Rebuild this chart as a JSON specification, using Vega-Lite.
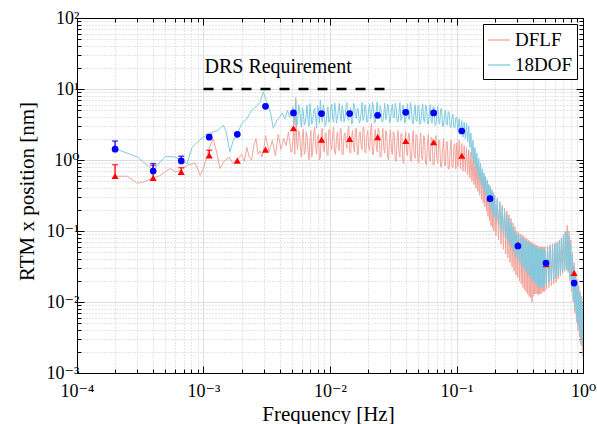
{
"$schema": "https://vega.github.io/schema/vega-lite/v6.json",
"width": 506, "height": 355,
"autosize": {"type": "none"},
"padding": {"left": 77, "top": 18, "right": 14, "bottom": 51},
"background": "white",
"config": {"font": "Liberation Serif, Times New Roman, DejaVu Serif, serif", "view": {"stroke": "black", "strokeWidth": 1}},
"datasets": {
"dflf": [
{"f":0.0002,"v":0.59},{"f":0.00025,"v":0.59},{"f":0.0003,"v":0.47},{"f":0.00035,"v":0.5},{"f":0.0004,"v":0.565},{"f":0.00045,"v":0.6},{"f":0.000545,"v":0.76},{"f":0.0006,"v":0.68},{"f":0.00067,"v":0.72},{"f":0.00074,"v":0.84},{"f":0.00086,"v":0.91},{"f":0.00094,"v":0.61},{"f":0.001,"v":0.75},{"f":0.0011,"v":1.4},{"f":0.00119,"v":2.0},{"f":0.00127,"v":1.3},{"f":0.00135,"v":0.76},{"f":0.00145,"v":0.95},{"f":0.0016,"v":1.1},{"f":0.0017,"v":0.9},{"f":0.00185,"v":1.0},{"f":0.002,"v":1.2},{"f":0.0021,"v":0.95},{"f":0.0022,"v":1.5},{"f":0.0023,"v":1.1},{"f":0.0024,"v":1.0},{"f":0.0025,"v":1.6},{"f":0.0026,"v":2.0},{"f":0.0027,"v":1.2},{"f":0.0028,"v":1.35},{"f":0.0029,"v":1.1},{"f":0.003,"v":1.45},{"f":0.0031,"v":2.2},{"f":0.0033,"v":1.3},{"f":0.0035,"v":1.9},{"f":0.0037,"v":1.15},{"f":0.0039,"v":2.3},{"f":0.0041,"v":1.4},{"f":0.0043,"v":2.0},{"f":0.0045,"v":1.6},{"f":0.0047,"v":2.5},{"f":0.0049,"v":1.3},
{"f":0.005,"v":1.3},{"f":0.00509,"v":2.0},{"f":0.00518,"v":2.5},{"f":0.00527,"v":1.2},{"f":0.00536,"v":7.6},{"f":0.00545,"v":1.8},{"f":0.00555,"v":1.4},{"f":0.00564,"v":2.6},{"f":0.00574,"v":2.4},{"f":0.00584,"v":1.5},{"f":0.00594,"v":1.1},{"f":0.00604,"v":2.0},{"f":0.00615,"v":2.7},{"f":0.00626,"v":1.2},{"f":0.00637,"v":1.3},{"f":0.00648,"v":2.5},{"f":0.00659,"v":2.2},{"f":0.0067,"v":1.4},{"f":0.00682,"v":1.0},{"f":0.00694,"v":1.9},{"f":0.00706,"v":2.6},{"f":0.00718,"v":1.1},{"f":0.00731,"v":1.4},{"f":0.00744,"v":2.4},{"f":0.00757,"v":2.9},{"f":0.0077,"v":1.6},{"f":0.00783,"v":1.2},{"f":0.00797,"v":2.1},{"f":0.00811,"v":2.3},{"f":0.00825,"v":1.0},{"f":0.00839,"v":1.1},{"f":0.00854,"v":2.5},{"f":0.00869,"v":2.8},{"f":0.00884,"v":1.5},{"f":0.00899,"v":1.3},{"f":0.00915,"v":2.2},{"f":0.00931,"v":2.4},{"f":0.00947,"v":1.2},{"f":0.00963,"v":1.15},{"f":0.0098,"v":2.7},{"f":0.00997,"v":2.6},{"f":0.01014,"v":1.6},{"f":0.01032,"v":1.4},{"f":0.0105,"v":2.3},{"f":0.01068,"v":2.9},{"f":0.01087,"v":1.3},{"f":0.01106,"v":1.2},{"f":0.01125,"v":2.0},{"f":0.01145,"v":2.5},{"f":0.01165,"v":1.5},{"f":0.01185,"v":1.35},{"f":0.01205,"v":2.8},{"f":0.01226,"v":2.7},{"f":0.01247,"v":1.2},{"f":0.01269,"v":1.2},{"f":0.01291,"v":2.2},{"f":0.01314,"v":2.4},{"f":0.01337,"v":1.7},{"f":0.0136,"v":1.45},{"f":0.01384,"v":2.6},{"f":0.01408,"v":3.0},{"f":0.01432,"v":1.3},{"f":0.01457,"v":1.25},{"f":0.01482,"v":2.1},{"f":0.01508,"v":2.6},{"f":0.01534,"v":1.5},{"f":0.01561,"v":1.3},{"f":0.01588,"v":2.7},{"f":0.01616,"v":2.8},{"f":0.01644,"v":1.2},{"f":0.01672,"v":1.2},{"f":0.01701,"v":2.3},{"f":0.01731,"v":2.5},{"f":0.01761,"v":1.6},{"f":0.01792,"v":1.4},{"f":0.01823,"v":2.9},{"f":0.01855,"v":2.9},{"f":0.01887,"v":1.3},{"f":0.0192,"v":1.25},{"f":0.01953,"v":2.2},{"f":0.01987,"v":2.6},{"f":0.02022,"v":1.5},{"f":0.02057,"v":1.35},{"f":0.02093,"v":2.6},{"f":0.02129,"v":3.3},{"f":0.02166,"v":1.2},{"f":0.02204,"v":1.2},{"f":0.02242,"v":2.1},{"f":0.02281,"v":2.7},{"f":0.02321,"v":1.6},{"f":0.02361,"v":1.3},{"f":0.02402,"v":2.8},{"f":0.02444,"v":2.5},{"f":0.02487,"v":1.1},{"f":0.0253,"v":1.1},{"f":0.02574,"v":2.0},{"f":0.02619,"v":2.8},{"f":0.02664,"v":1.4},{"f":0.0271,"v":1.25},{"f":0.02757,"v":2.6},{"f":0.02805,"v":2.4},{"f":0.02854,"v":1.1},{"f":0.02904,"v":1.0},{"f":0.02955,"v":2.0},{"f":0.03006,"v":2.7},{"f":0.03058,"v":1.4},{"f":0.03111,"v":1.2},{"f":0.03165,"v":2.5},{"f":0.0322,"v":2.3},{"f":0.03276,"v":1.0},{"f":0.03333,"v":0.95},{"f":0.03391,"v":1.9},{"f":0.0345,"v":2.6},{"f":0.0351,"v":1.3},{"f":0.03571,"v":1.1},{"f":0.03633,"v":2.3},{"f":0.03696,"v":2.4},{"f":0.0376,"v":1.0},{"f":0.03826,"v":0.9},{"f":0.03892,"v":1.8},{"f":0.0396,"v":2.5},{"f":0.04029,"v":1.3},{"f":0.04099,"v":1.15},{"f":0.0417,"v":2.4},{"f":0.04243,"v":2.3},{"f":0.04316,"v":1.0},{"f":0.04391,"v":0.95},{"f":0.04467,"v":1.7},{"f":0.04545,"v":2.6},{"f":0.04624,"v":1.2},{"f":0.04705,"v":1.05},{"f":0.04787,"v":2.3},{"f":0.0487,"v":2.2},{"f":0.04955,"v":0.95},{"f":0.05041,"v":0.9},{"f":0.05129,"v":1.7},{"f":0.05218,"v":2.4},{"f":0.05309,"v":1.1},{"f":0.05401,"v":1.0},{"f":0.05495,"v":2.2},{"f":0.0559,"v":2.1},{"f":0.05687,"v":0.9},{"f":0.05786,"v":0.85},{"f":0.05887,"v":1.6},{"f":0.05989,"v":2.3},{"f":0.06093,"v":1.1},{"f":0.06199,"v":0.95},{"f":0.06307,"v":2.1},{"f":0.06416,"v":2.0},{"f":0.06528,"v":0.85},{"f":0.06641,"v":0.85},{"f":0.06757,"v":1.5},{"f":0.06874,"v":2.2},{"f":0.06993,"v":1.0},{"f":0.07115,"v":0.9},{"f":0.07239,"v":1.9},{"f":0.07364,"v":1.9},{"f":0.07492,"v":0.8},{"f":0.07622,"v":0.8},{"f":0.07755,"v":1.4},{"f":0.07889,"v":2.0},{"f":0.08026,"v":0.9},{"f":0.08165,"v":0.82},{"f":0.08307,"v":1.8},{"f":0.08451,"v":1.8},{"f":0.08598,"v":0.75},{"f":0.08747,"v":0.75},{"f":0.08899,"v":1.3},{"f":0.09053,"v":1.9},{"f":0.09211,"v":0.8},{"f":0.0937,"v":0.78},{"f":0.09533,"v":1.6},{"f":0.09698,"v":1.7},{"f":0.09867,"v":0.75},{"f":0.1004,"v":1.75},
{"f":0.1025,"v":0.8},{"f":0.105,"v":1.9},{"f":0.1075,"v":0.75},{"f":0.11,"v":1.7},{"f":0.1125,"v":0.7},{"f":0.115,"v":1.6},{"f":0.1175,"v":0.68},{"f":0.12,"v":1.5},{"f":0.1225,"v":0.62},{"f":0.125,"v":1.4},{"f":0.1275,"v":0.56},{"f":0.13,"v":1.3},{"f":0.1325,"v":0.5},{"f":0.135,"v":1.15},{"f":0.1375,"v":0.45},{"f":0.14,"v":1.0},{"f":0.1425,"v":0.4},{"f":0.145,"v":0.9},{"f":0.1475,"v":0.36},{"f":0.15,"v":0.8},{"f":0.1525,"v":0.32},{"f":0.155,"v":0.72},{"f":0.1575,"v":0.28},{"f":0.16,"v":0.65},{"f":0.1625,"v":0.25},{"f":0.165,"v":0.6},{"f":0.1675,"v":0.22},{"f":0.17,"v":0.55},{"f":0.1725,"v":0.19},{"f":0.175,"v":0.5},{"f":0.1775,"v":0.16},{"f":0.18,"v":0.45},{"f":0.1825,"v":0.14},{"f":0.185,"v":0.42},{"f":0.1875,"v":0.12},{"f":0.19,"v":0.38},{"f":0.1925,"v":0.11},{"f":0.195,"v":0.35},{"f":0.1975,"v":0.1},{"f":0.2,"v":0.32},{"f":0.205,"v":0.085},{"f":0.21,"v":0.29},{"f":0.215,"v":0.075},{"f":0.22,"v":0.26},{"f":0.225,"v":0.065},{"f":0.23,"v":0.23},{"f":0.235,"v":0.055},{"f":0.24,"v":0.21},{"f":0.245,"v":0.048},{"f":0.25,"v":0.19},{"f":0.255,"v":0.042},{"f":0.26,"v":0.17},{"f":0.265,"v":0.036},{"f":0.27,"v":0.15},{"f":0.275,"v":0.031},{"f":0.28,"v":0.13},{"f":0.285,"v":0.027},{"f":0.29,"v":0.115},{"f":0.295,"v":0.024},{"f":0.3,"v":0.1},{"f":0.305,"v":0.022},{"f":0.31,"v":0.095},{"f":0.315,"v":0.02},{"f":0.32,"v":0.09},{"f":0.325,"v":0.018},{"f":0.33,"v":0.088},{"f":0.335,"v":0.016},{"f":0.34,"v":0.085},{"f":0.345,"v":0.015},{"f":0.35,"v":0.08},{"f":0.355,"v":0.014},{"f":0.36,"v":0.078},{"f":0.365,"v":0.013},{"f":0.37,"v":0.075},{"f":0.375,"v":0.012},{"f":0.38,"v":0.072},{"f":0.385,"v":0.0115},{"f":0.39,"v":0.07},{"f":0.395,"v":0.01},{"f":0.4,"v":0.068},{"f":0.405,"v":0.012},{"f":0.41,"v":0.066},{"f":0.415,"v":0.013},{"f":0.42,"v":0.064},{"f":0.425,"v":0.013},{"f":0.43,"v":0.063},{"f":0.435,"v":0.013},{"f":0.44,"v":0.062},{"f":0.445,"v":0.0125},{"f":0.45,"v":0.06},{"f":0.455,"v":0.013},{"f":0.46,"v":0.06},{"f":0.465,"v":0.013},{"f":0.47,"v":0.06},{"f":0.475,"v":0.014},{"f":0.48,"v":0.06},{"f":0.485,"v":0.014},{"f":0.49,"v":0.06},{"f":0.495,"v":0.014},{"f":0.5,"v":0.06},{"f":0.5125,"v":0.015},{"f":0.525,"v":0.062},{"f":0.5375,"v":0.016},{"f":0.55,"v":0.065},{"f":0.5625,"v":0.017},{"f":0.575,"v":0.066},{"f":0.5875,"v":0.018},{"f":0.6,"v":0.068},{"f":0.6125,"v":0.019},{"f":0.625,"v":0.07},{"f":0.6375,"v":0.021},{"f":0.65,"v":0.075},{"f":0.6625,"v":0.023},{"f":0.675,"v":0.08},{"f":0.6875,"v":0.025},{"f":0.7,"v":0.09},{"f":0.7125,"v":0.027},{"f":0.725,"v":0.1},{"f":0.7375,"v":0.028},{"f":0.75,"v":0.12},{"f":0.7625,"v":0.026},{"f":0.775,"v":0.1},{"f":0.7875,"v":0.02},{"f":0.8,"v":0.075},{"f":0.8125,"v":0.014},{"f":0.825,"v":0.05},{"f":0.8375,"v":0.01},{"f":0.85,"v":0.036},{"f":0.8625,"v":0.007},{"f":0.875,"v":0.027},{"f":0.8875,"v":0.0052},{"f":0.9,"v":0.021},{"f":0.9125,"v":0.004},{"f":0.925,"v":0.017},{"f":0.9375,"v":0.0032},{"f":0.95,"v":0.014},{"f":0.9625,"v":0.0025},{"f":0.975,"v":0.012},{"f":0.9875,"v":0.002},{"f":1.0,"v":0.0017}
],
"dof": [
{"f":0.0002,"v":1.45},{"f":0.0003,"v":1.1},{"f":0.0004,"v":0.72},{"f":0.0005,"v":1.13},{"f":0.0006,"v":1.1},{"f":0.00067,"v":0.98},{"f":0.00074,"v":0.88},{"f":0.00081,"v":1.5},{"f":0.0009,"v":1.8},{"f":0.001,"v":2.1},{"f":0.00108,"v":2.3},{"f":0.00119,"v":2.5},{"f":0.0013,"v":2.6},{"f":0.00143,"v":3.1},{"f":0.0015,"v":2.6},{"f":0.00162,"v":1.3},{"f":0.00172,"v":1.9},{"f":0.00185,"v":2.3},{"f":0.002,"v":3.25},{"f":0.0022,"v":3.8},{"f":0.0024,"v":5.0},{"f":0.0026,"v":5.6},{"f":0.0028,"v":6.5},{"f":0.00297,"v":9.1},{"f":0.0032,"v":6.2},{"f":0.0034,"v":4.5},{"f":0.00356,"v":2.8},{"f":0.0038,"v":3.6},{"f":0.004,"v":4.0},{"f":0.0042,"v":4.6},{"f":0.0044,"v":3.8},{"f":0.0046,"v":5.0},{"f":0.0048,"v":4.0},
{"f":0.005,"v":4.4},{"f":0.00509,"v":5.6},{"f":0.00518,"v":3.1},{"f":0.00527,"v":4.2},{"f":0.00536,"v":6.9},{"f":0.00545,"v":3.0},{"f":0.00555,"v":3.5},{"f":0.00564,"v":6.0},{"f":0.00574,"v":5.2},{"f":0.00584,"v":3.8},{"f":0.00594,"v":2.9},{"f":0.00604,"v":5.5},{"f":0.00615,"v":4.8},{"f":0.00626,"v":3.1},{"f":0.00637,"v":3.3},{"f":0.00648,"v":4.4},{"f":0.00659,"v":5.9},{"f":0.0067,"v":3.6},{"f":0.00682,"v":3.0},{"f":0.00694,"v":6.2},{"f":0.00706,"v":4.6},{"f":0.00718,"v":3.2},{"f":0.00731,"v":3.6},{"f":0.00744,"v":5.0},{"f":0.00757,"v":5.4},{"f":0.0077,"v":4.0},{"f":0.00783,"v":2.8},{"f":0.00797,"v":5.8},{"f":0.00811,"v":4.9},{"f":0.00825,"v":3.3},{"f":0.00839,"v":7.0},{"f":0.00854,"v":4.2},{"f":0.00869,"v":3.4},{"f":0.00884,"v":6.0},{"f":0.00899,"v":5.1},{"f":0.00915,"v":3.0},{"f":0.00931,"v":3.2},{"f":0.00947,"v":4.6},{"f":0.00963,"v":5.6},{"f":0.0098,"v":3.4},{"f":0.00997,"v":3.7},{"f":0.01014,"v":5.2},{"f":0.01032,"v":6.1},{"f":0.0105,"v":3.8},{"f":0.01068,"v":3.4},{"f":0.01087,"v":6.4},{"f":0.01106,"v":5.3},{"f":0.01125,"v":3.3},{"f":0.01145,"v":3.9},{"f":0.01165,"v":5.0},{"f":0.01185,"v":6.3},{"f":0.01205,"v":4.2},{"f":0.01226,"v":3.5},{"f":0.01247,"v":5.9},{"f":0.01269,"v":5.0},{"f":0.01291,"v":3.4},{"f":0.01314,"v":4.0},{"f":0.01337,"v":5.6},{"f":0.0136,"v":6.4},{"f":0.01384,"v":3.7},{"f":0.01408,"v":3.6},{"f":0.01432,"v":4.8},{"f":0.01457,"v":5.5},{"f":0.01482,"v":3.2},{"f":0.01508,"v":3.3},{"f":0.01534,"v":6.3},{"f":0.01561,"v":6.0},{"f":0.01588,"v":4.1},{"f":0.01616,"v":3.8},{"f":0.01644,"v":5.4},{"f":0.01672,"v":5.2},{"f":0.01701,"v":3.3},{"f":0.01731,"v":3.5},{"f":0.01761,"v":4.6},{"f":0.01792,"v":6.5},{"f":0.01823,"v":3.6},{"f":0.01855,"v":3.9},{"f":0.01887,"v":6.0},{"f":0.0192,"v":5.4},{"f":0.01953,"v":3.4},{"f":0.01987,"v":3.6},{"f":0.02022,"v":5.1},{"f":0.02057,"v":6.2},{"f":0.02093,"v":3.8},{"f":0.02129,"v":4.0},{"f":0.02166,"v":6.5},{"f":0.02204,"v":5.6},{"f":0.02242,"v":3.3},{"f":0.02281,"v":3.4},{"f":0.02321,"v":4.9},{"f":0.02361,"v":6.6},{"f":0.02402,"v":3.9},{"f":0.02444,"v":3.8},{"f":0.02487,"v":5.8},{"f":0.0253,"v":5.3},{"f":0.02574,"v":3.4},{"f":0.02619,"v":3.5},{"f":0.02664,"v":4.6},{"f":0.0271,"v":6.3},{"f":0.02757,"v":3.7},{"f":0.02805,"v":4.1},{"f":0.02854,"v":6.1},{"f":0.02904,"v":5.7},{"f":0.02955,"v":3.3},{"f":0.03006,"v":3.6},{"f":0.03058,"v":5.0},{"f":0.03111,"v":6.1},{"f":0.03165,"v":4.0},{"f":0.0322,"v":3.9},{"f":0.03276,"v":6.3},{"f":0.03333,"v":5.5},{"f":0.03391,"v":3.5},{"f":0.0345,"v":3.4},{"f":0.0351,"v":4.7},{"f":0.03571,"v":6.4},{"f":0.03633,"v":3.6},{"f":0.03696,"v":3.8},{"f":0.0376,"v":5.9},{"f":0.03826,"v":5.8},{"f":0.03892,"v":3.3},{"f":0.0396,"v":3.5},{"f":0.04029,"v":4.9},{"f":0.04099,"v":6.2},{"f":0.0417,"v":3.9},{"f":0.04243,"v":3.7},{"f":0.04316,"v":6.4},{"f":0.04391,"v":5.6},{"f":0.04467,"v":3.4},{"f":0.04545,"v":3.2},{"f":0.04624,"v":4.6},{"f":0.04705,"v":6.0},{"f":0.04787,"v":3.6},{"f":0.0487,"v":3.5},{"f":0.04955,"v":5.7},{"f":0.05041,"v":5.9},{"f":0.05129,"v":3.2},{"f":0.05218,"v":3.3},{"f":0.05309,"v":4.8},{"f":0.05401,"v":6.2},{"f":0.05495,"v":3.7},{"f":0.0559,"v":3.4},{"f":0.05687,"v":5.9},{"f":0.05786,"v":5.8},{"f":0.05887,"v":3.3},{"f":0.05989,"v":3.2},{"f":0.06093,"v":4.5},{"f":0.06199,"v":6.0},{"f":0.06307,"v":3.5},{"f":0.06416,"v":3.3},{"f":0.06528,"v":5.6},{"f":0.06641,"v":5.6},{"f":0.06757,"v":3.1},{"f":0.06874,"v":3.1},{"f":0.06993,"v":4.4},{"f":0.07115,"v":5.7},{"f":0.07239,"v":3.4},{"f":0.07364,"v":3.2},{"f":0.07492,"v":5.2},{"f":0.07622,"v":5.3},{"f":0.07755,"v":3.0},{"f":0.07889,"v":3.0},{"f":0.08026,"v":4.2},{"f":0.08165,"v":5.0},{"f":0.08307,"v":3.2},{"f":0.08451,"v":3.1},{"f":0.08598,"v":4.8},{"f":0.08747,"v":4.7},{"f":0.08899,"v":2.9},{"f":0.09053,"v":2.9},{"f":0.09211,"v":4.0},{"f":0.0937,"v":4.4},{"f":0.09533,"v":2.9},{"f":0.09698,"v":2.8},{"f":0.09867,"v":3.9},{"f":0.1004,"v":4.0},
{"f":0.1025,"v":2.6},{"f":0.105,"v":3.8},{"f":0.1075,"v":2.4},{"f":0.11,"v":3.6},{"f":0.1125,"v":2.1},{"f":0.115,"v":3.4},{"f":0.1175,"v":2.0},{"f":0.12,"v":3.3},{"f":0.1225,"v":1.8},{"f":0.125,"v":3.0},{"f":0.1275,"v":1.5},{"f":0.13,"v":2.4},{"f":0.1325,"v":1.1},{"f":0.135,"v":1.9},{"f":0.1375,"v":0.9},{"f":0.14,"v":1.5},{"f":0.1425,"v":0.75},{"f":0.145,"v":1.25},{"f":0.1475,"v":0.62},{"f":0.15,"v":1.05},{"f":0.1525,"v":0.52},{"f":0.155,"v":0.9},{"f":0.1575,"v":0.45},{"f":0.16,"v":0.75},{"f":0.1625,"v":0.4},{"f":0.165,"v":0.66},{"f":0.1675,"v":0.34},{"f":0.17,"v":0.58},{"f":0.1725,"v":0.3},{"f":0.175,"v":0.52},{"f":0.1775,"v":0.25},{"f":0.18,"v":0.45},{"f":0.1825,"v":0.22},{"f":0.185,"v":0.42},{"f":0.1875,"v":0.2},{"f":0.19,"v":0.38},{"f":0.1925,"v":0.18},{"f":0.195,"v":0.34},{"f":0.1975,"v":0.16},{"f":0.2,"v":0.32},{"f":0.205,"v":0.14},{"f":0.21,"v":0.28},{"f":0.215,"v":0.12},{"f":0.22,"v":0.25},{"f":0.225,"v":0.105},{"f":0.23,"v":0.22},{"f":0.235,"v":0.09},{"f":0.24,"v":0.19},{"f":0.245,"v":0.08},{"f":0.25,"v":0.17},{"f":0.255,"v":0.072},{"f":0.26,"v":0.15},{"f":0.265,"v":0.065},{"f":0.27,"v":0.13},{"f":0.275,"v":0.058},{"f":0.28,"v":0.115},{"f":0.285,"v":0.05},{"f":0.29,"v":0.1},{"f":0.295,"v":0.045},{"f":0.3,"v":0.09},{"f":0.305,"v":0.04},{"f":0.31,"v":0.088},{"f":0.315,"v":0.036},{"f":0.32,"v":0.085},{"f":0.325,"v":0.034},{"f":0.33,"v":0.08},{"f":0.335,"v":0.031},{"f":0.34,"v":0.078},{"f":0.345,"v":0.029},{"f":0.35,"v":0.075},{"f":0.355,"v":0.027},{"f":0.36,"v":0.072},{"f":0.365,"v":0.025},{"f":0.37,"v":0.07},{"f":0.375,"v":0.024},{"f":0.38,"v":0.068},{"f":0.385,"v":0.022},{"f":0.39,"v":0.066},{"f":0.395,"v":0.021},{"f":0.4,"v":0.064},{"f":0.405,"v":0.02},{"f":0.41,"v":0.062},{"f":0.415,"v":0.019},{"f":0.42,"v":0.06},{"f":0.425,"v":0.018},{"f":0.43,"v":0.059},{"f":0.435,"v":0.017},{"f":0.44,"v":0.058},{"f":0.445,"v":0.017},{"f":0.45,"v":0.057},{"f":0.455,"v":0.016},{"f":0.46,"v":0.056},{"f":0.465,"v":0.016},{"f":0.47,"v":0.055},{"f":0.475,"v":0.017},{"f":0.48,"v":0.055},{"f":0.485,"v":0.016},{"f":0.49,"v":0.054},{"f":0.495,"v":0.017},{"f":0.5,"v":0.055},{"f":0.5125,"v":0.018},{"f":0.525,"v":0.058},{"f":0.5375,"v":0.019},{"f":0.55,"v":0.06},{"f":0.5625,"v":0.02},{"f":0.575,"v":0.062},{"f":0.5875,"v":0.021},{"f":0.6,"v":0.065},{"f":0.6125,"v":0.022},{"f":0.625,"v":0.068},{"f":0.6375,"v":0.023},{"f":0.65,"v":0.072},{"f":0.6625,"v":0.025},{"f":0.675,"v":0.078},{"f":0.6875,"v":0.027},{"f":0.7,"v":0.085},{"f":0.7125,"v":0.028},{"f":0.725,"v":0.095},{"f":0.7375,"v":0.03},{"f":0.75,"v":0.1},{"f":0.7625,"v":0.028},{"f":0.775,"v":0.085},{"f":0.7875,"v":0.022},{"f":0.8,"v":0.065},{"f":0.8125,"v":0.016},{"f":0.825,"v":0.045},{"f":0.8375,"v":0.011},{"f":0.85,"v":0.032},{"f":0.8625,"v":0.008},{"f":0.875,"v":0.024},{"f":0.8875,"v":0.006},{"f":0.9,"v":0.019},{"f":0.9125,"v":0.0048},{"f":0.925,"v":0.015},{"f":0.9375,"v":0.0038},{"f":0.95,"v":0.013},{"f":0.9625,"v":0.003},{"f":0.975,"v":0.011},{"f":0.9875,"v":0.0024},{"f":1.0,"v":0.01}
],
"pts": [
{"f":0.0002,"b":1.42,"r":0.595},{"f":0.0004,"b":0.7,"r":0.56},{"f":0.000667,"b":0.97,"r":0.68},{"f":0.00111,"b":2.09,"r":1.16},{"f":0.00185,"b":2.3,"r":0.98},{"f":0.00309,"b":5.7,"r":1.4},{"f":0.00514,"b":4.6,"r":2.8},{"f":0.00857,"b":4.5,"r":1.94},{"f":0.0143,"b":4.5,"r":1.98},{"f":0.0238,"b":4.26,"r":2.1},{"f":0.0397,"b":4.7,"r":1.85},{"f":0.066,"b":4.6,"r":1.78},{"f":0.11,"b":2.56,"r":1.15},{"f":0.184,"b":0.286,"r":0.29},{"f":0.306,"b":0.0615,"r":0.065},{"f":0.51,"b":0.0354,"r":0.034},{"f":0.85,"b":0.0185,"r":0.0256}
],
"eb": [
{"f":0.0002,"b":1.42,"bu":1.85,"r":0.595,"ru":0.86},{"f":0.0004,"b":0.7,"bu":0.89,"r":0.56,"ru":0.84},{"f":0.000667,"b":0.97,"bu":1.13,"r":0.68,"ru":0.78},{"f":0.00111,"b":2.09,"bu":2.28,"r":1.16,"ru":1.37}
],
"req": [{"f":0.001,"v":10},{"f":0.027,"v":10}],
"lab": [{"f":0.001,"v":10,"t":"DRS Requirement"}]
},
"resolve": {"axis": {"x": "independent", "y": "independent"}},
"layer": [
{"layer": [
{"data": {"name": "dflf"}, "mark": {"type": "line", "strokeWidth": 1, "clip": true},
 "encoding": {
  "x": {"field": "f", "type": "quantitative", "scale": {"type": "log", "domain": [0.0001, 1]},
   "axis": {"orient": "bottom", "values": [0.0001,0.0002,0.0003,0.0004,0.0005,0.0006,0.0007,0.0008,0.0009,0.001,0.002,0.003,0.004,0.005,0.006,0.007,0.008,0.009,0.01,0.02,0.03,0.04,0.05,0.06,0.07,0.08,0.09,0.1,0.2,0.3,0.4,0.5,0.6,0.7,0.8,0.9,1],
    "labelExpr": "datum.value==0.0001?'10⁻⁴':datum.value==0.001?'10⁻³':datum.value==0.01?'10⁻²':datum.value==0.1?'10⁻¹':datum.value==1?'10⁰':''",
    "labelFlush": false, "labelOverlap": false, "labelFontSize": 18, "labelColor": "black", "labelBaseline": "alphabetic", "labelPadding": 30,
    "title": "Frequency [Hz]", "titleFontSize": 21, "titleFontWeight": "normal", "titleColor": "black", "titleX": 251, "titleY": 47, "titleBaseline": "alphabetic",
    "domainColor": "black", "tickColor": "black",
    "tickSize": {"condition": {"test": "abs(log(datum.value)/LN10-round(log(datum.value)/LN10))<0.01", "value": -7}, "value": -4},
    "grid": true,
    "gridColor": {"condition": {"test": "abs(log(datum.value)/LN10-round(log(datum.value)/LN10))<0.01", "value": "#dedede"}, "value": "#cdcdcd"},
    "gridDash": {"condition": {"test": "abs(log(datum.value)/LN10-round(log(datum.value)/LN10))<0.01", "value": []}, "value": [1, 2]}}},
  "y": {"field": "v", "type": "quantitative", "scale": {"type": "log", "domain": [0.001, 100]},
   "axis": {"orient": "left", "values": [0.001,0.002,0.003,0.004,0.005,0.006,0.007,0.008,0.009,0.01,0.02,0.03,0.04,0.05,0.06,0.07,0.08,0.09,0.1,0.2,0.3,0.4,0.5,0.6,0.7,0.8,0.9,1,2,3,4,5,6,7,8,9,10,20,30,40,50,60,70,80,90,100],
    "labelExpr": "datum.value==0.001?'10⁻³':datum.value==0.01?'10⁻²':datum.value==0.1?'10⁻¹':datum.value==1?'10⁰':datum.value==10?'10¹':datum.value==100?'10²':''",
    "labelOverlap": false, "labelFlush": false, "labelFontSize": 18, "labelColor": "black", "labelPadding": 5,
    "title": "RTM x position [nm]", "titleFontSize": 21, "titleFontWeight": "normal", "titleColor": "black", "titleX": -44, "titleY": 173, "titleBaseline": "alphabetic", "titleAngle": -90,
    "domainColor": "black", "tickColor": "black",
    "tickSize": {"condition": {"test": "abs(log(datum.value)/LN10-round(log(datum.value)/LN10))<0.01", "value": -7}, "value": -4},
    "grid": true,
    "gridColor": {"condition": {"test": "abs(log(datum.value)/LN10-round(log(datum.value)/LN10))<0.01", "value": "#dedede"}, "value": "#cdcdcd"},
    "gridDash": {"condition": {"test": "abs(log(datum.value)/LN10-round(log(datum.value)/LN10))<0.01", "value": []}, "value": [1, 2]}}},
  "color": {"datum": "DFLF", "type": "nominal", "scale": {"domain": ["DFLF", "18DOF"], "range": ["#f2a49c", "#7fcbe0"]},
   "legend": {"orient": "top-right", "offset": 6, "title": null, "strokeColor": "black", "fillColor": "white", "padding": 4, "cornerRadius": 0, "labelFontSize": 19, "labelColor": "black", "symbolType": "stroke", "symbolSize": 480, "symbolStrokeWidth": 1.3, "rowPadding": 3, "labelOffset": 4}}
 }},
{"data": {"name": "dof"}, "mark": {"type": "line", "strokeWidth": 1, "clip": true},
 "encoding": {
  "x": {"field": "f", "type": "quantitative", "scale": {"type": "log", "domain": [0.0001, 1]}},
  "y": {"field": "v", "type": "quantitative", "scale": {"type": "log", "domain": [0.001, 100]}},
  "color": {"datum": "18DOF", "type": "nominal"}
 }},
{"data": {"name": "eb"}, "mark": {"type": "rule", "color": "#ff0000", "strokeWidth": 1.3},
 "encoding": {"x": {"field": "f", "type": "quantitative"}, "y": {"field": "r", "type": "quantitative"}, "y2": {"field": "ru"}}},
{"data": {"name": "eb"}, "mark": {"type": "tick", "orient": "horizontal", "color": "#ff0000", "size": 6, "thickness": 1.5},
 "encoding": {"x": {"field": "f", "type": "quantitative"}, "y": {"field": "ru", "type": "quantitative"}}},
{"data": {"name": "pts"}, "mark": {"type": "point", "shape": "triangle-up", "filled": true, "color": "#ff0000", "opacity": 1, "size": 50},
 "encoding": {"x": {"field": "f", "type": "quantitative"}, "y": {"field": "r", "type": "quantitative"}}},
{"data": {"name": "eb"}, "mark": {"type": "rule", "color": "#0000ff", "strokeWidth": 1.3},
 "encoding": {"x": {"field": "f", "type": "quantitative"}, "y": {"field": "b", "type": "quantitative"}, "y2": {"field": "bu"}}},
{"data": {"name": "eb"}, "mark": {"type": "tick", "orient": "horizontal", "color": "#0000ff", "size": 6, "thickness": 1.5},
 "encoding": {"x": {"field": "f", "type": "quantitative"}, "y": {"field": "bu", "type": "quantitative"}}},
{"data": {"name": "pts"}, "mark": {"type": "point", "shape": "circle", "filled": true, "color": "#0000ff", "opacity": 1, "size": 45},
 "encoding": {"x": {"field": "f", "type": "quantitative"}, "y": {"field": "b", "type": "quantitative"}}},
{"data": {"name": "req"}, "mark": {"type": "line", "color": "black", "strokeWidth": 2.6, "strokeDash": [10, 9]},
 "encoding": {"x": {"field": "f", "type": "quantitative"}, "y": {"field": "v", "type": "quantitative"}}},
{"data": {"name": "lab"}, "mark": {"type": "text", "align": "left", "baseline": "alphabetic", "dy": -16, "dx": 1, "fontSize": 20, "color": "black"},
 "encoding": {"x": {"field": "f", "type": "quantitative"}, "y": {"field": "v", "type": "quantitative"}, "text": {"field": "t"}}}
]},
{"data": {"name": "req"}, "mark": {"type": "point", "opacity": 0},
 "encoding": {
  "x": {"field": "f", "type": "quantitative", "scale": {"type": "log", "domain": [0.0001, 1]},
   "axis": {"orient": "top", "values": [0.0001,0.0002,0.0003,0.0004,0.0005,0.0006,0.0007,0.0008,0.0009,0.001,0.002,0.003,0.004,0.005,0.006,0.007,0.008,0.009,0.01,0.02,0.03,0.04,0.05,0.06,0.07,0.08,0.09,0.1,0.2,0.3,0.4,0.5,0.6,0.7,0.8,0.9,1],
    "labels": false, "title": null, "grid": false, "domainColor": "black", "tickColor": "black",
    "tickSize": {"condition": {"test": "abs(log(datum.value)/LN10-round(log(datum.value)/LN10))<0.01", "value": -7}, "value": -4}}},
  "y": {"field": "v", "type": "quantitative", "scale": {"type": "log", "domain": [0.001, 100]},
   "axis": {"orient": "right", "values": [0.001,0.002,0.003,0.004,0.005,0.006,0.007,0.008,0.009,0.01,0.02,0.03,0.04,0.05,0.06,0.07,0.08,0.09,0.1,0.2,0.3,0.4,0.5,0.6,0.7,0.8,0.9,1,2,3,4,5,6,7,8,9,10,20,30,40,50,60,70,80,90,100],
    "labels": false, "title": null, "grid": false, "domainColor": "black", "tickColor": "black",
    "tickSize": {"condition": {"test": "abs(log(datum.value)/LN10-round(log(datum.value)/LN10))<0.01", "value": -7}, "value": -4}}}
 }}
]
}
